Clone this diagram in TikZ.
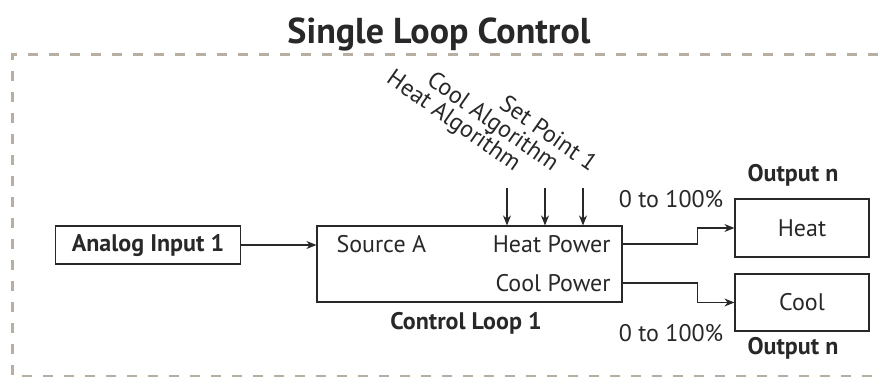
\documentclass[tikz,border=0pt]{standalone}
\usepackage{fontspec}
\setmainfont{PT Sans}
\usetikzlibrary{arrows.meta}
\definecolor{framegray}{RGB}{183,176,162}
\definecolor{linegray}{RGB}{40,40,40}
\begin{document}
\begin{tikzpicture}[x=1pt,y=-1pt,
  every node/.style={font=\fontsize{24}{28}\selectfont,text=linegray},
  block/.style={draw=linegray,line width=1.2pt,inner sep=0pt},
  bold/.style={font=\bfseries\fontsize{24}{28}\selectfont},
  flow/.style={draw=linegray,line width=1.2pt,-{Stealth[length=10pt,width=8pt]}}]
\useasboundingbox (0,0) rectangle (878,377);
\node[font=\bfseries\fontsize{36}{42}\selectfont] (title) at (439,34) {Single Loop Control};
\draw[framegray,line width=3pt,dash pattern=on 10pt off 11pt] (878,55) -- (12,55) -- (12,376) -- (878,376);
% input and loop
\node[block,bold,minimum width=185pt,minimum height=38pt] (ain) at (148,245) {Analog Input 1};
\node[block,minimum width=305pt,minimum height=76pt] (loop) at (469.5,264) {};
\node[anchor=west] (src) at (333,244) {Source A};
\node[anchor=east] (heatpw) at (614,244) {Heat Power};
\node[anchor=east] (coolpw) at (614,283) {Cool Power};
\node[bold] (looplbl) at (466,323) {Control Loop 1};
\draw[flow] (ain.east) -- (ain.east -| loop.west);
\foreach \x/\name/\txt in {507/ha/Heat Algorithm,545/ca/Cool Algorithm,583/sp/Set Point 1}{
 \coordinate (\name) at (\x,188); \draw[flow] (\name) -- (\name |- loop.north);
 \node[rotate=-35,anchor=base east,inner sep=0pt] (\name lbl) at (\x+7,172) {\txt};}
% outputs
\node[block,minimum width=134pt,minimum height=58pt] (heat) at (802,228) {Heat};
\node[block,minimum width=134pt,minimum height=57pt] (cool) at (802,302.5) {Cool};
\node[bold] (outa) at (793,175) {Output n};
\node[bold] (outb) at (793,348) {Output n};
\node (pcta) at (671,199) {0 to 100\%};
\node (pctb) at (671,333) {0 to 100\%};
\draw[flow] (heatpw.east -| loop.east) -- ++(75,0) |- (heat.west);
\draw[flow] (coolpw.east -| loop.east) -- ++(75,0) |- (cool.west);
\end{tikzpicture}
\end{document}
